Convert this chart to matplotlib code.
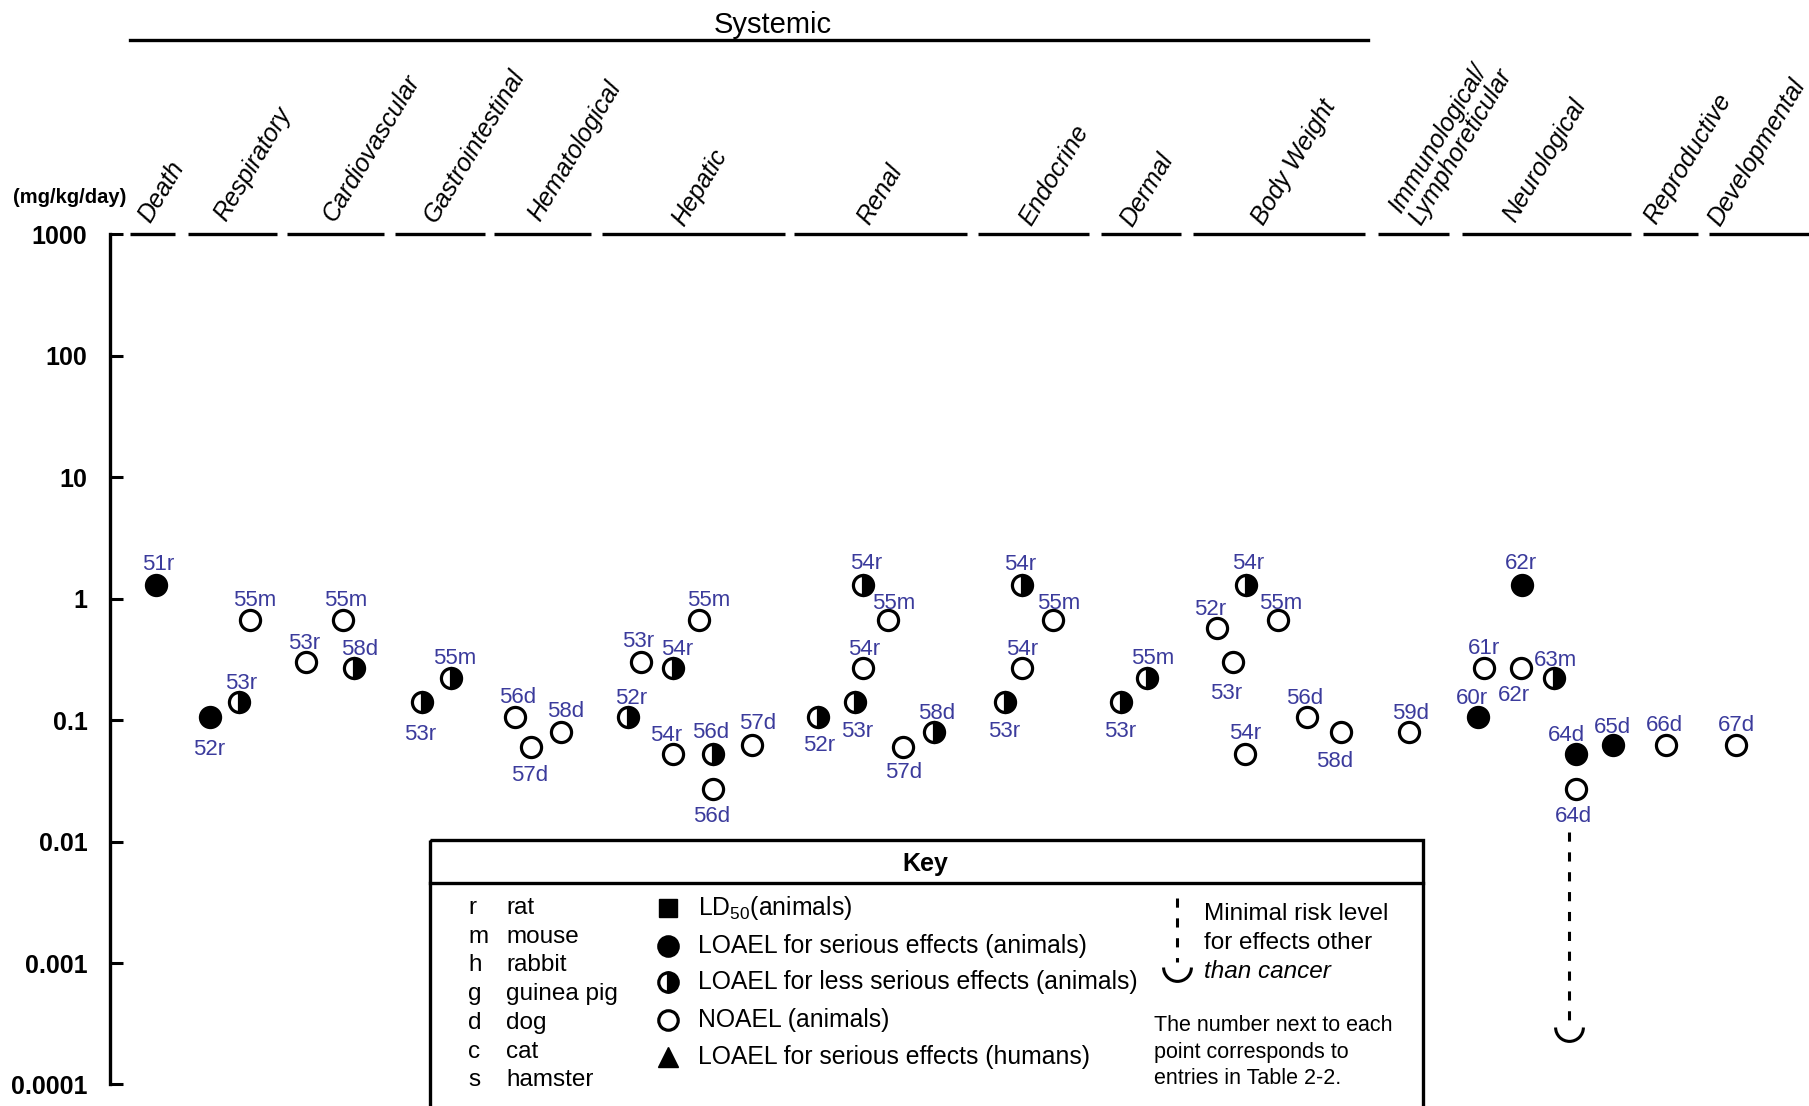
import numpy as np
import matplotlib
matplotlib.use('Agg')
import matplotlib.pyplot as plt
from matplotlib.path import Path
from matplotlib.patches import Rectangle
from matplotlib.ticker import NullLocator

plt.rcParams['font.family'] = ['Liberation Sans', 'DejaVu Sans']

# drawing units: page is W wide, H high (y grows downwards on the overlay)
W = 1568.0
H = W * 1106 / 1809
BLUE = '#3b3b9c'

# --- categories along the top ---
categories = ['Death', 'Respiratory', 'Cardiovascular', 'Gastrointestinal',
              'Hematological', 'Hepatic', 'Renal', 'Endocrine', 'Dermal',
              'Body Weight', 'Immunological/\nLymphoreticular', 'Neurological',
              'Reproductive', 'Developmental']
seg_start = [113, 163, 249, 342, 428, 522, 688, 848, 954, 1034, 1194, 1267, 1424, 1481]
seg_end = [152, 240, 333, 420, 512, 680, 838, 944, 1024, 1183, 1256, 1414, 1472, 1568]
lab_x = [130, 196, 290, 378, 468, 593, 753, 894, 981, 1095, 1232, 1313, 1435, 1491]
lab_y = [194, 193, 193, 194, 193, 197, 196, 197, 198, 196, 197, 194, 195, 197]

# --- points: x position, dose (mg/kg/day), kind, label ---
pt_x = [135,
        182, 207, 217,
        265, 297, 307,
        366, 391,
        446, 460, 486,
        544, 556, 583, 606, 583, 618, 618, 652,
        709, 748, 770, 748, 741, 783, 810,
        886, 913, 886, 871,
        972, 994,
        1080, 1055, 1108, 1069, 1133, 1162, 1079,
        1221,
        1281, 1286, 1318, 1319, 1347, 1366, 1366, 1398,
        1444,
        1505]
pt_val = [1.3,
          0.105, 0.14, 0.67,
          0.3, 0.67, 0.27,
          0.14, 0.22,
          0.105, 0.06, 0.08,
          0.105, 0.3, 0.27, 0.67, 0.053, 0.053, 0.027, 0.062,
          0.105, 1.3, 0.67, 0.27, 0.14, 0.06, 0.08,
          1.3, 0.67, 0.27, 0.14,
          0.14, 0.22,
          1.3, 0.57, 0.67, 0.3, 0.105, 0.08, 0.053,
          0.08,
          0.105, 0.27, 0.27, 1.3, 0.22, 0.053, 0.027, 0.062,
          0.062,
          0.062]
pt_kind = ['f',
           'f', 'h', 'o',
           'o', 'o', 'h',
           'h', 'h',
           'o', 'o', 'o',
           'h', 'o', 'h', 'o', 'o', 'h', 'o', 'o',
           'h', 'h', 'o', 'o', 'h', 'o', 'h',
           'h', 'o', 'o', 'h',
           'h', 'h',
           'h', 'o', 'o', 'o', 'o', 'o', 'o',
           'o',
           'f', 'o', 'o', 'f', 'h', 'f', 'o', 'f',
           'o',
           'o']
pt_label = ['51r',
            '52r', '53r', '55m',
            '53r', '55m', '58d',
            '53r', '55m',
            '56d', '57d', '58d',
            '52r', '53r', '54r', '55m', '54r', '56d', '56d', '57d',
            '52r', '54r', '55m', '54r', '53r', '57d', '58d',
            '54r', '55m', '54r', '53r',
            '53r', '55m',
            '54r', '52r', '55m', '53r', '56d', '58d', '54r',
            '59d',
            '60r', '61r', '62r', '62r', '63m', '64d', '64d', '65d',
            '66d',
            '67d']
# label offsets from the marker (drawing units, + is down)
lab_dx = [2, -1, 2, 4, -1, 3, 5, -2, 3, 3, -1, 4, 3, -3, 4, 8, -6, -2, -1, 5,
          1, 3, 5, 1, 2, 0, 2, -2, 5, 0, -1, -1, 5, 2, -6, 2, -6, -2, -5, 0,
          2, -5, 0, -6, -1, 1, -8, -2, 0, -1, 0]
lab_dy = [-20, 25, -19, -19, -19, -19, -18, 25, -20, -20, 22, -20, -19, -20, -18, -19,
          -18, -21, 21, -21, 22, -21, -17, -18, 23, 20, -18, -20, -17, -18, 23, 23, -20,
          -21, -19, -17, 25, -19, 23, -20, -18, -19, -19, 22, -21, -18, -18, 21, -18,
          -20, -20]

# minimal risk level (neurological)
mrl_x = 1360
mrl_top = 0.012
mrl_val = 0.0003

yticks = [1e-4, 1e-3, 1e-2, 1e-1, 1, 10, 100, 1000]
ytick_labels = ['0.0001', '0.001', '0.01', '0.1', '1', '10', '100', '1000']

species = [('r', 'rat'), ('m', 'mouse'), ('h', 'rabbit'), ('g', 'guinea pig'),
           ('d', 'dog'), ('c', 'cat'), ('s', 'hamster')]
key_entries = [r'LD$_{\mathregular{50}}$(animals)',
               'LOAEL for serious effects (animals)',
               'LOAEL for less serious effects (animals)',
               'NOAEL (animals)',
               'LOAEL for serious effects (humans)']

fig = plt.figure(figsize=(18.09, 11.06), dpi=100)

top_y, bot_y = 203, 940
ax = fig.add_axes([95 / W, 1 - bot_y / H, 1 - 95 / W, (bot_y - top_y) / H])
ax.patch.set_alpha(0)
ax.set_yscale('log')
ax.set_ylim(1e-4, 1e3)
ax.set_xlim(95, W)
for s in ['top', 'right', 'bottom']:
    ax.spines[s].set_visible(False)
ax.spines['left'].set_linewidth(2.4)
ax.set_xticks([])
ax.set_yticks(yticks)
ax.set_yticklabels(ytick_labels, fontsize=18, fontweight='bold')
ax.yaxis.set_minor_locator(NullLocator())
ax.tick_params(axis='y', direction='in', length=9, width=2.2, pad=16)

x = np.array(pt_x, dtype=float)
v = np.array(pt_val)
kind = np.array(pt_kind)
styles = {
    'f': dict(mfc='black'),
    'h': dict(mfc='black', mfcalt='white', fillstyle='right'),
    'o': dict(mfc='white'),
}
for k, st in styles.items():
    m = kind == k
    ax.plot(x[m], v[m], ls='none', marker='o', ms=14.5, mew=2.3, mec='black',
            clip_on=False, zorder=3, **st)

u = 1809 / W * 0.72  # drawing unit -> points
for xi, vi, lab, dx, dy in zip(pt_x, pt_val, pt_label, lab_dx, lab_dy):
    ax.annotate(lab, (xi, vi), xytext=(dx * u, -(dy + 2.5) * u), textcoords='offset points',
                ha='center', va='center', color=BLUE, fontsize=16)

# MRL
ax.plot([mrl_x, mrl_x], [mrl_top, mrl_val], color='black', lw=2.2, ls=(0, (3, 3.5)))
u_arc = Path.arc(180, 360)
ax.plot([mrl_x], [mrl_val], marker=u_arc, ms=20, mfc='none', mec='black', mew=2.2)

# overlay for header, labels and key
ov = fig.add_axes([0, 0, 1, 1])
ov.set_xlim(0, W)
ov.set_ylim(H, 0)
ov.axis('off')

ov.text(670, 22, 'Systemic', fontsize=21, ha='center', va='center')
ov.plot([113, 1186], [35, 35], color='black', lw=2.4)
ov.text(60, 171, '(mg/kg/day)', fontsize=14.5, fontweight='bold', ha='center', va='center')

for s0, s1 in zip(seg_start, seg_end):
    ov.plot([s0, s1], [top_y, top_y], color='black', lw=2.4, solid_capstyle='butt')
for name, lx, ly in zip(categories, lab_x, lab_y):
    ov.text(lx, ly, name, rotation=59, rotation_mode='anchor', ha='left', va='baseline',
            fontsize=18, style='italic', linespacing=0.95)

# key box
ov.add_patch(Rectangle((373, 728), 1233 - 373, 400, fill=False, lw=2.4, ec='black'))
ov.plot([373, 1233], [765, 765], color='black', lw=2.4)
ov.text(802, 749, 'Key', fontsize=18, fontweight='bold', ha='center', va='center')

row0, step = 787, 24.9
for i, (ab, nm) in enumerate(species):
    ov.text(406, row0 + i * step, ab, fontsize=17.5, ha='left', va='center')
    ov.text(439, row0 + i * step, nm, fontsize=17.5, ha='left', va='center')

key_rows = [787, 820, 851, 884, 916]
ov.plot(579, key_rows[0], marker='s', ms=13, color='black', ls='none')
ov.plot(579, key_rows[1], marker='o', ms=14, mfc='black', mec='black', mew=2.3, ls='none')
ov.plot(579, key_rows[2], marker='o', ms=14, mfc='black', mfcalt='white', fillstyle='right',
        mec='black', mew=2.3, ls='none')
ov.plot(579, key_rows[3], marker='o', ms=14, mfc='white', mec='black', mew=2.3, ls='none')
ov.plot(579, key_rows[4], marker='^', ms=15, color='black', ls='none')
for ry, txt in zip(key_rows, key_entries):
    ov.text(605, ry, txt, fontsize=17.8, ha='left', va='center')

ov.plot([1020, 1020], [778, 834], color='black', lw=2.2, ls=(0, (3, 3.5)))
ov.plot(1020, 838, marker=u_arc, ms=20, mfc='none', mec='black', mew=2.2)
ov.text(1044, 792, 'Minimal risk level', fontsize=17.5, ha='left', va='center')
ov.text(1044, 817, 'for effects other', fontsize=17.5, ha='left', va='center')
ov.text(1044, 842, 'than cancer', fontsize=17.5, ha='left', va='center', style='italic')
for i, line in enumerate(['The number next to each', 'point corresponds to',
                          'entries in Table 2-2.']):
    ov.text(1000, 889 + i * 23, line, fontsize=15.5, ha='left', va='center')

fig.savefig('out.png', dpi=100)
